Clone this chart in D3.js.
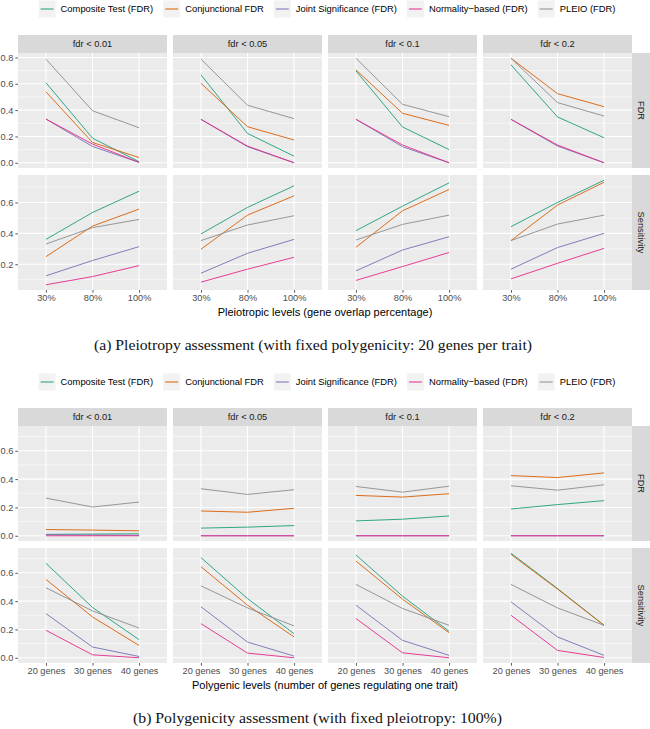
<!DOCTYPE html>
<html>
<head>
<meta charset="utf-8">
<script src="https://cdn.jsdelivr.net/npm/d3@7"></script>
<style>
body { margin: 0; background: #fff; }
svg { display: block; }
text { font-family: "Liberation Sans", Arial, sans-serif; }
text.caption { font-family: "Liberation Serif", "DejaVu Serif", serif; }
</style>
</head>
<body>
<svg id="chart" width="650" height="729"></svg>
<script>
const methods = ["Composite Test (FDR)", "Conjunctional FDR", "Joint Significance (FDR)", "Normality\u2212based (FDR)", "PLEIO (FDR)"];
const methodColors = ["#1b9e77", "#d95f02", "#7570b3", "#e7298a", "#8c8c8c"];
const thresholds = ["fdr < 0.01", "fdr < 0.05", "fdr < 0.1", "fdr < 0.2"];
const measures = ["FDR", "Sensitivity"];
const pleioLevels = ["30%", "80%", "100%"];
const polyLevels = ["20 genes", "30 genes", "40 genes"];

// [threshold][method][level]
const pleioFdr = [
    [[0.608, 0.187, 0.008], [0.539, 0.154, 0.040], [0.332, 0.124, 0.003], [0.332, 0.142, 0.003], [0.787, 0.395, 0.266]],
    [[0.668, 0.223, 0.050], [0.604, 0.274, 0.173], [0.330, 0.122, 0.000], [0.330, 0.127, 0.000], [0.787, 0.437, 0.335]],
    [[0.698, 0.272, 0.100], [0.706, 0.376, 0.284], [0.330, 0.122, 0.000], [0.330, 0.135, 0.000], [0.794, 0.444, 0.350]],
    [[0.744, 0.348, 0.190], [0.794, 0.525, 0.426], [0.330, 0.127, 0.000], [0.330, 0.135, 0.000], [0.794, 0.457, 0.355]]
];
const pleioSens = [
    [[0.361, 0.535, 0.673], [0.249, 0.447, 0.557], [0.125, 0.224, 0.314], [0.067, 0.120, 0.191], [0.331, 0.437, 0.490]],
    [[0.396, 0.568, 0.708], [0.297, 0.518, 0.643], [0.142, 0.271, 0.361], [0.084, 0.168, 0.245], [0.353, 0.454, 0.514]],
    [[0.417, 0.576, 0.727], [0.310, 0.546, 0.684], [0.157, 0.292, 0.378], [0.095, 0.185, 0.276], [0.357, 0.458, 0.518]],
    [[0.443, 0.600, 0.744], [0.353, 0.583, 0.731], [0.168, 0.308, 0.400], [0.105, 0.206, 0.303], [0.353, 0.460, 0.518]]
];
const polyFdr = [
    [[0.010, 0.012, 0.014], [0.044, 0.040, 0.035], [0.007, 0.005, 0.003], [0.000, 0.000, 0.000], [0.266, 0.203, 0.238]],
    [[0.054, 0.061, 0.072], [0.175, 0.166, 0.194], [0.000, 0.000, 0.000], [0.000, 0.000, 0.000], [0.332, 0.292, 0.325]],
    [[0.105, 0.117, 0.140], [0.285, 0.273, 0.297], [0.000, 0.000, 0.000], [0.000, 0.000, 0.000], [0.348, 0.308, 0.350]],
    [[0.189, 0.220, 0.248], [0.425, 0.411, 0.444], [0.000, 0.000, 0.000], [0.000, 0.000, 0.000], [0.353, 0.322, 0.360]]
];
const polySens = [
    [[0.667, 0.355, 0.128], [0.553, 0.288, 0.087], [0.312, 0.076, 0.009], [0.194, 0.021, 0.000], [0.494, 0.331, 0.210]],
    [[0.707, 0.418, 0.170], [0.643, 0.371, 0.147], [0.360, 0.111, 0.012], [0.241, 0.033, 0.000], [0.508, 0.352, 0.225]],
    [[0.726, 0.435, 0.187], [0.683, 0.414, 0.177], [0.371, 0.123, 0.017], [0.277, 0.035, 0.000], [0.518, 0.348, 0.229]],
    [[0.738, 0.489, 0.229], [0.730, 0.485, 0.229], [0.395, 0.147, 0.017], [0.300, 0.052, 0.002], [0.518, 0.352, 0.229]]
];

const gfx = {
    left: 18,
    panelW: 149,
    gapX: 6,
    stripH: 18,
    panelH: 115,
    gapY: 7,
    stripW: 18
};

const svg = d3.select("#chart");

function flat(v) {
    return v.flat(2);
}

function expanded(lo, hi) {
    const r = hi - lo;
    return [lo - 0.05 * r, hi + 0.05 * r];
}

function drawLegend(g, cy) {
    const leg = g.append("g").attr("class", "legend");
    const items = leg.selectAll("g.item").data(methods).enter().append("g").attr("class", "item");

    items.append("rect")
        .attr("width", 17).attr("height", 17)
        .attr("y", cy - 8.5)
        .attr("fill", "#f2f2f2");
    items.append("line")
        .attr("x1", 2).attr("x2", 15)
        .attr("y1", cy).attr("y2", cy)
        .attr("stroke", (d, i) => methodColors[i])
        .attr("stroke-width", 1);
    items.append("text")
        .attr("x", 22).attr("y", cy)
        .attr("dy", "0.35em")
        .attr("font-size", 9.4)
        .attr("fill", "#000")
        .text(d => d);

    // lay out items side by side, centred over the panels
    const widths = [];
    items.each(function () {
        widths.push(22 + d3.select(this).select("text").node().getComputedTextLength());
    });
    const gap = 10;
    const total = d3.sum(widths) + gap * (widths.length - 1);
    let x = 327 - total / 2;
    items.attr("transform", (d, i) => {
        const t = "translate(" + x + ",0)";
        x += widths[i] + gap;
        return t;
    });
}

function drawFigure(top, levels, fdrVals, sensVals, freeY, xTitle, caption, capX, capW, capY) {
    const g = svg.append("g").attr("transform", "translate(0," + top + ")");

    drawLegend(g, 9);

    const stripTop = 35;
    const rowTop = [stripTop + gfx.stripH, stripTop + gfx.stripH + gfx.panelH + gfx.gapY];
    const rowVals = [fdrVals, sensVals];

    const shared = d3.extent(flat(fdrVals).concat(flat(sensVals)));
    const yScales = rowVals.map((v, r) => {
        const ext = freeY ? d3.extent(flat(v)) : shared;
        return d3.scaleLinear().domain(expanded(ext[0], ext[1]))
            .range([rowTop[r] + gfx.panelH, rowTop[r]]);
    });

    const x = d3.scalePoint().domain(levels).range([0, gfx.panelW]).padding(0.6);
    const panelX = thresholds.map((t, c) => gfx.left + c * (gfx.panelW + gfx.gapX));
    const rightX = panelX[3] + gfx.panelW;

    // top strips
    thresholds.forEach((t, c) => {
        g.append("rect")
            .attr("x", panelX[c]).attr("y", stripTop)
            .attr("width", gfx.panelW).attr("height", gfx.stripH)
            .attr("fill", "#d9d9d9");
        g.append("text")
            .attr("x", panelX[c] + gfx.panelW / 2).attr("y", stripTop + gfx.stripH / 2)
            .attr("dy", "0.35em")
            .attr("text-anchor", "middle")
            .attr("font-size", 9.3)
            .attr("fill", "#1a1a1a")
            .text(t);
    });

    measures.forEach((m, r) => {
        const y = yScales[r];
        const majors = y.ticks(5);
        const step = majors[1] - majors[0];
        const dom = y.domain();
        const minors = d3.range(majors[0] - step / 2, dom[1], step).filter(v => v > dom[0] && v < dom[1]);

        // right strip
        g.append("rect")
            .attr("x", rightX).attr("y", rowTop[r])
            .attr("width", gfx.stripW).attr("height", gfx.panelH)
            .attr("fill", "#d9d9d9");
        g.append("text")
            .attr("transform", "translate(" + (rightX + gfx.stripW / 2) + "," + (rowTop[r] + gfx.panelH / 2) + ") rotate(90)")
            .attr("dy", "0.35em")
            .attr("text-anchor", "middle")
            .attr("font-size", 9.3)
            .attr("fill", "#1a1a1a")
            .text(m);

        // y axis on the first column
        const yAxis = g.append("g")
            .attr("transform", "translate(" + gfx.left + ",0)")
            .call(d3.axisLeft(y).tickValues(majors).tickSize(2.7).tickPadding(2).tickFormat(d3.format(".1f")));
        yAxis.select(".domain").remove();
        yAxis.selectAll(".tick line").attr("stroke", "#333").attr("stroke-width", 0.8);
        yAxis.selectAll(".tick text").attr("fill", "#4d4d4d").attr("font-size", 9.2);

        thresholds.forEach((t, c) => {
            const p = g.append("g").attr("class", "panel")
                .attr("transform", "translate(" + panelX[c] + ",0)");

            p.append("rect")
                .attr("y", rowTop[r])
                .attr("width", gfx.panelW).attr("height", gfx.panelH)
                .attr("fill", "#ebebeb");

            p.selectAll("line.minor").data(minors).enter().append("line")
                .attr("class", "minor")
                .attr("x1", 0).attr("x2", gfx.panelW)
                .attr("y1", d => y(d)).attr("y2", d => y(d))
                .attr("stroke", "#fff").attr("stroke-width", 0.55);
            p.selectAll("line.major").data(majors).enter().append("line")
                .attr("class", "major")
                .attr("x1", 0).attr("x2", gfx.panelW)
                .attr("y1", d => y(d)).attr("y2", d => y(d))
                .attr("stroke", "#fff").attr("stroke-width", 1.1);
            p.selectAll("line.vmajor").data(levels).enter().append("line")
                .attr("class", "vmajor")
                .attr("x1", d => x(d)).attr("x2", d => x(d))
                .attr("y1", rowTop[r]).attr("y2", rowTop[r] + gfx.panelH)
                .attr("stroke", "#fff").attr("stroke-width", 1.1);

            const line = d3.line()
                .x((d, i) => x(levels[i]))
                .y(d => y(d));

            p.selectAll("path.series").data(rowVals[r][c]).enter().append("path")
                .attr("class", "series")
                .attr("d", d => line(d))
                .attr("fill", "none")
                .attr("stroke", (d, i) => methodColors[i])
                .attr("stroke-width", 0.9);

            if (r === 1) {
                const xAxis = p.append("g")
                    .attr("transform", "translate(0," + (rowTop[r] + gfx.panelH) + ")")
                    .call(d3.axisBottom(x).tickSize(2.7).tickPadding(2));
                xAxis.select(".domain").remove();
                xAxis.selectAll(".tick line").attr("stroke", "#333").attr("stroke-width", 0.8);
                xAxis.selectAll(".tick text").attr("fill", "#4d4d4d").attr("font-size", 9.2);
            }
        });
    });

    g.append("text")
        .attr("x", (gfx.left + rightX) / 2)
        .attr("y", rowTop[1] + gfx.panelH + 26)
        .attr("text-anchor", "middle")
        .attr("font-size", 11)
        .attr("fill", "#000")
        .text(xTitle);

    g.append("text")
        .attr("class", "caption")
        .attr("x", capX)
        .attr("y", capY)
        .attr("text-anchor", "middle")
        .attr("font-size", 14.5)
        .attr("textLength", capW)
        .attr("lengthAdjust", "spacingAndGlyphs")
        .attr("fill", "#111")
        .text(caption);
}

drawFigure(0, pleioLevels, pleioFdr, pleioSens, true,
    "Pleiotropic levels (gene overlap percentage)",
    "(a) Pleiotropy assessment (with fixed polygenicity: 20 genes per trait)", 313, 438, 350);

drawFigure(373, polyLevels, polyFdr, polySens, false,
    "Polygenic levels (number of genes regulating one trait)",
    "(b) Polygenicity assessment (with fixed pleiotropy: 100%)", 317.5, 369, 350);
</script>
</body>
</html>
